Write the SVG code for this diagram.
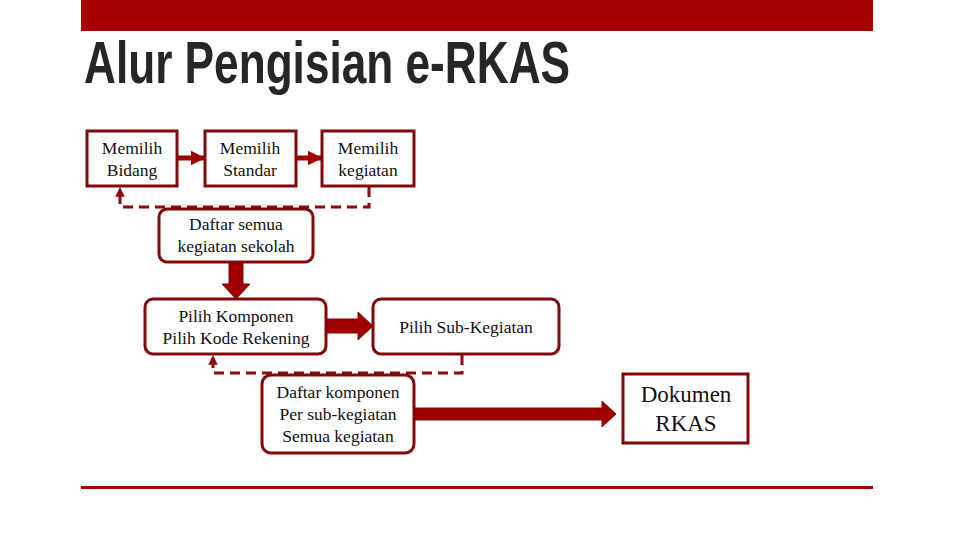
<svg xmlns="http://www.w3.org/2000/svg" width="960" height="540" viewBox="0 0 960 540">
<defs>
<style>
.box{fill:#fff;stroke:#7f0a0a;stroke-width:3}
.t{font-family:"Liberation Serif","Times New Roman",serif;font-size:17.5px;fill:#111;text-anchor:middle}
.big{font-size:23px}
.dash{fill:none;stroke:#8b0a0a;stroke-width:3;stroke-dasharray:10,6}
.solid{fill:none;stroke:#a00000;stroke-width:5}
.fat{fill:#a00000;stroke:#7f0a0a;stroke-width:1}
</style>
<marker id="ah" viewBox="0 0 10 10" refX="9" refY="5" markerWidth="3" markerHeight="3" orient="auto" markerUnits="strokeWidth">
<path d="M0,0 L10,5 L0,10 Z" fill="#a00000"/>
</marker>
<marker id="ahd" viewBox="0 0 10 10" refX="9" refY="5" markerWidth="3.2" markerHeight="3.2" orient="auto" markerUnits="strokeWidth">
<path d="M0,0 L10,5 L0,10 Z" fill="#8b0a0a"/>
</marker>
</defs>
<rect x="81" y="0" width="792" height="31" fill="#a80000"/>
<text x="84" y="83" font-family="'Liberation Sans Narrow','Liberation Sans',Arial,sans-serif" font-weight="bold" font-size="60" fill="#262626" textLength="486" lengthAdjust="spacingAndGlyphs">Alur Pengisian e-RKAS</text>
<rect x="81" y="486" width="792" height="3" fill="#a00000"/>

<g id="connectors">
<line class="solid" x1="178" y1="158" x2="204" y2="158" marker-end="url(#ah)"/>
<line class="solid" x1="297" y1="158" x2="321" y2="158" marker-end="url(#ah)"/>
<path class="dash" d="M369,187 V207 H120 V188" marker-end="url(#ahd)"/>
<path class="fat" d="M229,262 H243 V284 H250 L236,299 L222,284 H229 Z"/>
<path class="fat" d="M327,319 H358 V312 L373,326 L358,340 V333 H327 Z"/>
<path class="dash" d="M462,355 V373 H213 V356" marker-end="url(#ahd)"/>
<path class="fat" d="M415,408 H602 V401 L616,414 L602,427 V420 H415 Z"/>
</g>

<g id="memilih-bidang">
<rect class="box" x="87" y="131" width="90" height="55"/>
<text class="t" x="132" y="154">Memilih</text>
<text class="t" x="132" y="176">Bidang</text>
</g>
<g id="memilih-standar">
<rect class="box" x="205" y="131" width="91" height="55"/>
<text class="t" x="250" y="154">Memilih</text>
<text class="t" x="250" y="176">Standar</text>
</g>
<g id="memilih-kegiatan">
<rect class="box" x="322" y="131" width="92" height="55"/>
<text class="t" x="368" y="154">Memilih</text>
<text class="t" x="368" y="176">kegiatan</text>
</g>
<g id="daftar-semua">
<rect class="box" x="159" y="209" width="154" height="53" rx="8"/>
<text class="t" x="236" y="230">Daftar semua</text>
<text class="t" x="236" y="252">kegiatan sekolah</text>
</g>
<g id="pilih-komponen">
<rect class="box" x="145" y="299" width="181" height="55" rx="8"/>
<text class="t" x="236" y="322">Pilih Komponen</text>
<text class="t" x="236" y="344">Pilih Kode Rekening</text>
</g>
<g id="pilih-sub-kegiatan">
<rect class="box" x="373" y="299" width="186" height="55" rx="8"/>
<text class="t" x="466" y="333">Pilih Sub-Kegiatan</text>
</g>
<g id="daftar-komponen">
<rect class="box" x="262" y="375" width="152" height="78" rx="9"/>
<text class="t" x="338" y="398">Daftar komponen</text>
<text class="t" x="338" y="420">Per sub-kegiatan</text>
<text class="t" x="338" y="442">Semua kegiatan</text>
</g>
<g id="dokumen-rkas">
<rect class="box" x="623" y="374" width="125" height="69"/>
<text class="t big" x="686" y="402">Dokumen</text>
<text class="t big" x="686" y="431">RKAS</text>
</g>
</svg>
